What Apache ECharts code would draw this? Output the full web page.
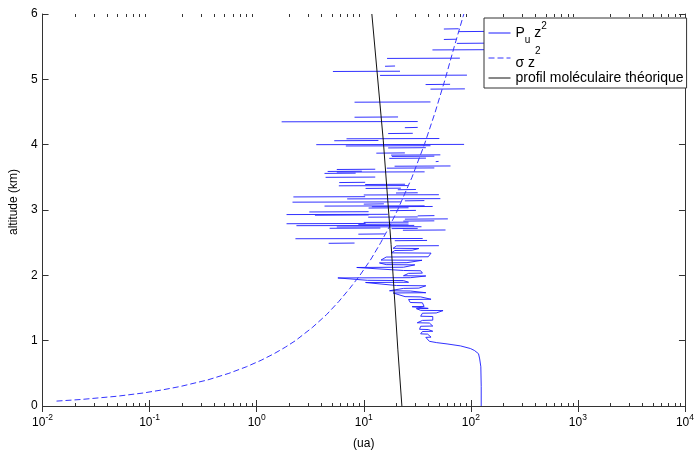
<!DOCTYPE html>
<html><head><meta charset="utf-8">
<script src="https://cdn.jsdelivr.net/npm/echarts@6/dist/echarts.min.js"></script>
<style>html,body{margin:0;padding:0;background:#fff}#c{width:697px;height:457px}</style>
</head><body><div id="c"></div>
<script>
// ---- Measured profile Pu z^2 : continuous lower part (altitude km, value ua)
const contAlt = [0.00,0.30,0.60,0.72,0.80,0.85,0.88,0.92,0.95,0.97,0.99,
  1.05,1.054,1.10,1.104,1.14,1.144,1.17,1.174,1.22,1.224,1.27,1.274,1.31,1.314,1.37,1.374,1.42,1.424,1.46,1.464,
  1.49,1.494,1.52,1.524,1.58,1.584,1.63,1.634,1.67,1.674,1.73,1.734,1.76,1.764,1.80,1.804,1.84,1.844,
  1.89,1.894,1.92,1.924,1.96,1.964,1.99,1.994,2.03,2.034,2.07,2.074,2.12,2.124,2.16,2.164,2.19,2.194,
  2.23,2.234,2.28,2.284,2.34,2.344,2.38,2.384,2.41,2.414,2.45,2.454];
const contVal = [125,125,124,121,118,108,99,80,60,48,41,
  38.0,42.5,39.5,34.0,35.3,44.1,40,33.2,34,44.1,41,31.6,35.3,44.1,44.1,34.0,35.3,47.5,55.0,34.0,
  31,40,28.3,36.6,35.3,27.2,26.2,42.5,34,24.3,18.8,38.0,27.2,17.4,23.5,32.7,38.0,20.2,
  10.4,26.2,23.5,10.8,5.73,27.2,38.0,23.5,26.2,35.3,34,23.5,8.6,23.5,30,16.2,14.0,25.3,
  35,14.5,16.2,40,42.5,18.1,19.5,28.3,32.7,18.8,20.2,50.3];
// ---- Measured profile : isolated strokes of the upper part (altitude, low value, high value)
const spikeAlt = [2.49,2.53,2.56,2.63,2.69,2.715,2.72,2.74,2.76,2.78,2.79,2.81,2.83,2.86,2.89,2.91,2.92,2.93,2.97,2.99,
  3.03,3.05,3.06,3.09,3.12,3.14,3.17,3.20,3.23,3.26,3.31,3.33,3.37,3.39,3.42,3.50,3.56,3.58,3.59,3.62,
  3.64,3.67,3.74,3.79,3.82,3.84,3.87,3.95,3.98,4.00,4.06,4.09,4.17,4.26,4.35,4.42,4.65,4.85,
  4.92,5.06,5.12,5.20,5.32,5.45,5.55,5.61,5.73,5.77];
const spikeLo = [4.7,19.5,2.3,8.9,23.2,18.2,4.8,5.6,2.35,8.9,1.9,10,23.4,24.2,11,31.9,3.5,1.9,3.1,17.6,
  11.1,11.9,4.3,10,2.16,24.2,7,2.2,10,20,20.8,10.4,5.85,10.3,5.9,4.4,4.3,5.6,4.6,5.6,
  16.4,19.4,47,17.3,18.3,18,13.1,16.9,6.8,3.6,5.3,6.9,16.9,24.2,1.71,8.2,8.2,42,
  37.8,14.2,5.15,15.8,16.5,43.8,74,56,77,56];
const spikeHi = [8.2,39,35.5,15.7,58,31.9,14.3,34.6,29.6,26.2,10.4,26.2,45.6,61,31.9,45.7,11.1,16.8,11.1,30.7,
  26.2,44,37,15.4,22.2,36.8,51.9,10.3,50.3,31.9,30.7,22.2,25.8,24.3,10.3,12.8,8.4,37,9.6,12.8,
  45.6,64.6,50,38.1,45.6,51.9,24.2,38,42,86.5,13.7,50.8,28.7,31.9,31.9,20.9,42,88,
  64,92,21.8,19.6,79,150,150,74,150,77];
// ---- sigma z^2
const sigmaAlt = [0.075,0.1,0.15,0.2,0.25,0.3,0.4,0.5,0.6,0.7,0.8,0.9,1.0,1.2,1.4,1.6,1.8,2.0,2.25,2.5,2.75,3.0,3.5,4.0,4.5,5.0,5.5,6.0];
const sigmaVal = [0.0135,0.023,0.05,0.088,0.135,0.195,0.35,0.55,0.8,1.1,1.45,1.85,2.3,3.3,4.5,5.85,7.4,9.2,11.7,14.4,17.4,20.7,28.2,36.8,46.5,57.5,70,86];
// ---- theoretical molecular profile
const molAlt = [0,0.87,2.47,4.07,6];
const molVal = [22.7,20.8,18.0,15.2,11.9];
// ---- axis ticks
const decades = [0.01,0.1,1,10,100,1000];
const minorMult = [2,3,4,5,6,7,8,9];
const yTicks = [0,1,2,3,4,5,6];

const FONT = "'Liberation Sans', Arial, Helvetica, sans-serif";
const names = ['Pu z2', 'σ z2', 'profil moléculaire théorique'];

const measData = contAlt.map((a,i)=>[contVal[i], a]);
spikeAlt.forEach((a,i)=>{
  measData.push(['-','-']);
  measData.push([spikeLo[i], a]);
  measData.push([spikeHi[i], a + 0.004]);
});
const sigmaData = sigmaAlt.map((a,i)=>[sigmaVal[i], a]);
const molData = molAlt.map((a,i)=>[molVal[i], a]);
const minorData = [];
decades.forEach(d=>minorMult.forEach(m=>minorData.push([d*m, 0])));

const chart = echarts.init(document.getElementById('c'), null, {renderer:'canvas'});
const axisColor = '#333';
chart.setOption({
  animation: false,
  backgroundColor: '#fff',
  textStyle: {fontFamily: FONT},
  grid: {left: 39, right: 6, top: 14, bottom: 51, containLabel: false},
  xAxis: [{
    type: 'log', logBase: 10, min: 0.01, max: 10000, splitNumber: 6, position: 'bottom',
    axisLine: {show: true, lineStyle: {color: axisColor, width: 1}},
    axisTick: {show: true, inside: true, length: 6, lineStyle: {color: axisColor}},
    splitLine: {show: false}, minorTick: {show: false},
    axisLabel: {
      margin: 7, color: '#000', fontFamily: FONT,
      formatter: v => '{b|10}{e|' + Math.round(Math.log10(v)) + '}',
      rich: {
        b: {fontSize: 12, lineHeight: 20, verticalAlign: 'middle', fontFamily: FONT, color: '#000'},
        e: {fontSize: 8.5, lineHeight: 8, verticalAlign: 'top', fontFamily: FONT, color: '#000'}
      }
    },
    name: '(ua)', nameLocation: 'middle', nameGap: 32,
    nameTextStyle: {fontSize: 12, color: '#000', fontFamily: FONT}
  }, {
    type: 'log', logBase: 10, min: 0.01, max: 10000, splitNumber: 6, position: 'top',
    axisLine: {show: true, lineStyle: {color: axisColor, width: 1}},
    axisTick: {show: true, inside: true, length: 6, lineStyle: {color: axisColor}},
    axisLabel: {show: false}, splitLine: {show: false}
  }],
  yAxis: [{
    type: 'value', min: 0, max: 6, interval: 1, position: 'left',
    axisLine: {show: true, lineStyle: {color: axisColor, width: 1}},
    axisTick: {show: true, inside: true, length: 6, lineStyle: {color: axisColor}},
    splitLine: {show: false},
    axisLabel: {margin: 5, fontSize: 12, color: '#000', fontFamily: FONT},
    name: 'altitude (km)', nameLocation: 'middle', nameGap: 17,
    nameTextStyle: {fontSize: 12, color: '#000', fontFamily: FONT, padding: [0, 0, 0, 16]}
  }, {
    type: 'value', min: 0, max: 6, interval: 1, position: 'right',
    axisLine: {show: true, lineStyle: {color: axisColor, width: 1}},
    axisTick: {show: true, inside: true, length: 6, lineStyle: {color: axisColor}},
    splitLine: {show: false}, axisLabel: {show: false}
  }],
  legend: {
    data: names, orient: 'vertical', left: 484, top: 18,
    padding: [3, 3, 3, 4], itemGap: 1, itemWidth: 22, itemHeight: 10, itemTextGap: 3,
    backgroundColor: '#fff', borderColor: '#333', borderWidth: 1, borderRadius: 0,
    align: 'left', selectedMode: false,
    itemStyle: {opacity: 0},
    lineStyle: {width: 1},
    formatter: function (name) {
      if (name === names[0]) return '{n|P}{sub|u}{n| z}{sup|2}';
      if (name === names[1]) return '{low|σ z}{lsup|2}';
      return '{p|' + name + '}';
    },
    textStyle: {
      fontFamily: FONT, fontSize: 14, color: '#000',
      rich: {
        n: {fontSize: 14, lineHeight: 24, verticalAlign: 'middle', fontFamily: FONT, color: '#000'},
        sub: {fontSize: 10, lineHeight: 8, verticalAlign: 'bottom', fontFamily: FONT, color: '#000'},
        sup: {fontSize: 10, lineHeight: 16, verticalAlign: 'top', fontFamily: FONT, color: '#000'},
        low: {fontSize: 14, lineHeight: 14, verticalAlign: 'bottom', fontFamily: FONT, color: '#000'},
        lsup: {fontSize: 10, lineHeight: 24, verticalAlign: 'top', fontFamily: FONT, color: '#000'},
        p: {fontSize: 14, lineHeight: 16, fontFamily: FONT, color: '#000'}
      }
    }
  },
  series: [{
    name: names[0], type: 'line', data: measData, xAxisIndex: 0, yAxisIndex: 0,
    symbol: 'none', connectNulls: false, color: '#0000ff', itemStyle: {opacity: 0},
    lineStyle: {color: '#1a1aff', width: 0.9}, z: 3
  }, {
    name: names[1], type: 'line', data: sigmaData, xAxisIndex: 0, yAxisIndex: 0,
    symbol: 'none', smooth: false, color: '#3434ff', itemStyle: {opacity: 0},
    lineStyle: {color: '#3434ff', width: 1, type: [6, 3]}, z: 3
  }, {
    name: names[2], type: 'line', data: molData, xAxisIndex: 0, yAxisIndex: 0,
    symbol: 'none', color: '#111', itemStyle: {opacity: 0},
    lineStyle: {color: '#111', width: 1}, z: 4
  }, {
    name: 'minorTicks', type: 'custom', data: minorData, xAxisIndex: 0, yAxisIndex: 0,
    silent: true, clip: false, z: 5,
    encode: {x: 0, y: 1},
    renderItem: function (params, api) {
      const v = api.value(0);
      const b = api.coord([v, yTicks[0]]);
      const t = api.coord([v, yTicks[yTicks.length - 1]]);
      const x = Math.round(b[0]) + 0.5;
      return {type: 'group', children: [
        {type: 'line', shape: {x1: x, y1: b[1], x2: x, y2: b[1] - 3}, style: {stroke: axisColor, lineWidth: 1}},
        {type: 'line', shape: {x1: x, y1: t[1], x2: x, y2: t[1] + 3}, style: {stroke: axisColor, lineWidth: 1}}
      ]};
    }
  }]
});
</script></body></html>
